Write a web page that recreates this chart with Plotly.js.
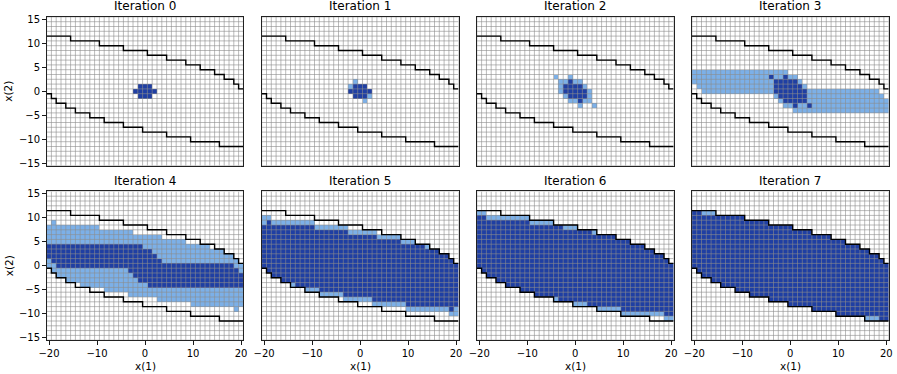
<!DOCTYPE html>
<html><head><meta charset="utf-8">
<script src="https://cdn.plot.ly/plotly-3.0.1.min.js"></script>
<style>html,body{margin:0;padding:0;background:#fff}#chart{width:897px;height:374px}</style>
</head><body><div id="chart"></div>
<script>
const _ = null;
// columns x(1) = -20..20, rows x(2) = -15..15
const xCols = [-20,-19,-18,-17,-16,-15,-14,-13,-12,-11,-10,-9,-8,-7,-6,-5,-4,-3,-2,-1,0,1,2,3,4,5,6,7,8,9,10,11,12,13,14,15,16,17,18,19,20];
const yRows = [-15,-14,-13,-12,-11,-10,-9,-8,-7,-6,-5,-4,-3,-2,-1,0,1,2,3,4,5,6,7,8,9,10,11,12,13,14,15];
const xTicks = [-20,-10,0,10,20];
const yTicks = [-15,-10,-5,0,5,10,15];
const titles = ['Iteration 0','Iteration 1','Iteration 2','Iteration 3','Iteration 4','Iteration 5','Iteration 6','Iteration 7'];

// safe set (black staircase): highest / lowest admissible cell per column
const safeTop = [11,11,11,11,11,10,10,10,10,10,10,9,9,9,9,9,8,8,8,8,8,7,7,7,7,6,6,6,6,5,5,5,4,4,4,3,3,2,2,1,0];
const safeBot = [0,-1,-2,-2,-3,-3,-4,-4,-4,-5,-5,-5,-6,-6,-6,-6,-7,-7,-7,-7,-8,-8,-8,-8,-8,-9,-9,-9,-9,-9,-10,-10,-10,-10,-10,-10,-11,-11,-11,-11,-11];

// reached set after each iteration: top / bottom cell per column (null = none)
const top0 = [_,_,_,_,_,_,_,_,_,_,_,_,_,_,_,_,_,_,0,1,1,1,0,_,_,_,_,_,_,_,_,_,_,_,_,_,_,_,_,_,_];
const bot0 = [_,_,_,_,_,_,_,_,_,_,_,_,_,_,_,_,_,_,0,-1,-1,-1,0,_,_,_,_,_,_,_,_,_,_,_,_,_,_,_,_,_,_];
const top1 = [_,_,_,_,_,_,_,_,_,_,_,_,_,_,_,_,_,_,1,2,1,1,0,_,_,_,_,_,_,_,_,_,_,_,_,_,_,_,_,_,_];
const bot1 = [_,_,_,_,_,_,_,_,_,_,_,_,_,_,_,_,_,_,0,-1,-1,-2,-1,_,_,_,_,_,_,_,_,_,_,_,_,_,_,_,_,_,_];
const top2 = [_,_,_,_,_,_,_,_,_,_,_,_,_,_,_,_,3,2,2,3,2,2,1,0,-3,_,_,_,_,_,_,_,_,_,_,_,_,_,_,_,_];
const bot2 = [_,_,_,_,_,_,_,_,_,_,_,_,_,_,_,_,3,0,-1,-2,-2,-3,-2,-2,-3,_,_,_,_,_,_,_,_,_,_,_,_,_,_,_,_];
const top3 = [4,4,4,4,4,4,4,4,4,4,4,4,4,4,4,4,4,4,4,4,3,3,2,1,0,0,0,0,0,0,0,0,0,0,0,0,0,0,0,-1,-2];
const bot3 = [2,1,0,0,0,0,0,0,0,0,0,0,0,0,0,0,0,-1,-2,-3,-3,-4,-4,-4,-4,-4,-4,-4,-4,-4,-4,-4,-4,-4,-4,-4,-4,-4,-4,-4,-4];
const top4 = [8,9,8,8,8,8,8,8,8,8,8,7,7,7,7,7,7,7,6,6,6,6,6,6,5,5,5,5,5,4,4,4,4,4,3,3,3,2,2,1,0];
const bot4 = [0,-1,-2,-2,-3,-3,-3,-4,-4,-4,-4,-4,-5,-5,-5,-5,-5,-6,-6,-6,-6,-6,-6,-7,-7,-7,-7,-7,-7,-7,-8,-8,-8,-8,-8,-8,-8,-8,-8,-9,-8];
const top5 = [10,10,9,9,9,9,9,9,9,9,9,8,8,8,8,8,8,8,7,7,7,7,7,7,6,6,6,6,6,5,5,5,4,4,4,3,3,2,2,1,0];
const bot5 = [0,-1,-2,-2,-3,-3,-4,-4,-4,-5,-5,-5,-6,-6,-6,-6,-6,-7,-7,-7,-7,-7,-7,-8,-8,-8,-8,-8,-8,-8,-9,-9,-9,-9,-9,-9,-9,-9,-9,-10,-10];
const top6 = [11,11,10,10,10,10,10,10,10,10,10,9,9,9,9,9,8,8,8,8,8,7,7,7,7,6,6,6,6,5,5,5,4,4,4,3,3,2,2,1,0];
const bot6 = [0,-1,-2,-2,-3,-3,-4,-4,-4,-5,-5,-5,-6,-6,-6,-6,-7,-7,-7,-7,-8,-8,-8,-8,-8,-9,-9,-9,-9,-9,-10,-10,-10,-10,-10,-10,-10,-10,-10,-11,-11];
const top7 = [11,11,11,11,11,10,10,10,10,10,10,9,9,9,9,9,8,8,8,8,8,7,7,7,7,6,6,6,6,5,5,5,4,4,4,3,3,2,2,1,0];
const bot7 = [0,-1,-2,-2,-3,-3,-4,-4,-4,-5,-5,-5,-6,-6,-6,-6,-7,-7,-7,-7,-8,-8,-8,-8,-8,-9,-9,-9,-9,-9,-10,-10,-10,-10,-10,-10,-11,-11,-11,-11,-11];

const reachTop = [top0,top1,top2,top3,top4,top5,top6,top7];
const reachBot = [bot0,bot1,bot2,bot3,bot4,bot5,bot6,bot7];

const WHITE = '#ffffff', LIGHT = '#7cb0e8', DARK = '#1f3fa3';

function inSet(k, i, y){
  const t = reachTop[k][i], b = reachBot[k][i];
  return t !== null && y <= t && y >= b;
}

const W = 897, H = 374;
const colL = [46.6, 261.7, 476.8, 691.9], panW = 196.8;
const rowT = [16.9, 191.4], panH = 148.8;

const data = [], annotations = [];
const layout = {
  width: W, height: H, margin: {l:0,r:0,t:0,b:0},
  paper_bgcolor: '#fff', plot_bgcolor: '#fff', showlegend: false,
  font: {family: 'DejaVu Sans', size: 10, color: '#000'},
  annotations: annotations
};

const xMinE = xCols[0]-0.5, xMaxE = xCols[xCols.length-1]+0.5;
const yMinE = yRows[0]-0.5, yMaxE = yRows[yRows.length-1]+0.5;

for (let k = 0; k < 8; k++) {
  const r = Math.floor(k/4), c = k%4;
  const sfx = k === 0 ? '' : String(k+1);
  const xa = 'x'+sfx, ya = 'y'+sfx;
  const prev = k === 0 ? 0 : k-1;
  const z = yRows.map(y => xCols.map((x,i) => inSet(prev,i,y) ? 2 : (inSet(k,i,y) ? 1 : 0)));
  data.push({type:'heatmap', x:xCols, y:yRows, z:z, xaxis:xa, yaxis:ya, zmin:0, zmax:2,
    colorscale:[[0,WHITE],[0.333,WHITE],[0.334,LIGHT],[0.666,LIGHT],[0.667,DARK],[1,DARK]],
    showscale:false, hoverinfo:'skip'});
  // cell edges
  const gx = [], gy = [];
  for (let i = 0; i <= xCols.length; i++) { const e = xMinE + i; gx.push(e,e,null); gy.push(yMinE,yMaxE,null); }
  for (let j = 0; j <= yRows.length; j++) { const e = yMinE + j; gx.push(xMinE,xMaxE,null); gy.push(e,e,null); }
  data.push({type:'scatter', mode:'lines', x:gx, y:gy, xaxis:xa, yaxis:ya,
    line:{color:'rgba(140,140,140,0.7)', width:0.85}, hoverinfo:'skip'});
  // safe set boundary
  const ex = xCols.map(x => x-0.5).concat([xMaxE]);
  const uy = safeTop.map(v => v+0.5); uy.push(uy[uy.length-1]);
  const ly = safeBot.map(v => v-0.5); ly.push(ly[ly.length-1]);
  data.push({type:'scatter', mode:'lines', x:ex, y:uy, xaxis:xa, yaxis:ya, line:{color:'#000', width:1.4, shape:'hv'}, hoverinfo:'skip'});
  data.push({type:'scatter', mode:'lines', x:ex, y:ly, xaxis:xa, yaxis:ya, line:{color:'#000', width:1.4, shape:'hv'}, hoverinfo:'skip'});

  const x0 = colL[c]/W, x1 = (colL[c]+panW)/W;
  const y1 = 1 - rowT[r]/H, y0 = 1 - (rowT[r]+panH)/H;
  const bottomRow = r === 1, leftCol = c === 0;
  layout['xaxis'+sfx] = {domain:[x0,x1], anchor:ya, range:[xMinE,xMaxE], showgrid:false, zeroline:false,
    showline:true, mirror:true, linecolor:'#222', linewidth:1,
    ticks: bottomRow ? 'outside' : '', ticklen:3.5, tickwidth:0.9, tickcolor:'#000',
    tickvals: xTicks, showticklabels: bottomRow, tickfont:{size:10, color:'#000'}, fixedrange:true};
  layout['yaxis'+sfx] = {domain:[y0,y1], anchor:xa, range:[yMinE,yMaxE], showgrid:false, zeroline:false,
    showline:true, mirror:true, linecolor:'#222', linewidth:1,
    ticks: leftCol ? 'outside' : '', ticklen:3.5, tickwidth:0.9, tickcolor:'#000',
    tickvals: yTicks, showticklabels: leftCol, tickfont:{size:10, color:'#000'}, fixedrange:true};
  annotations.push({text:titles[k], xref:'paper', yref:'paper', x:(x0+x1)/2, y:1-(rowT[r]-10.5)/H, xanchor:'center', yanchor:'middle',
    showarrow:false, borderpad:0, font:{size:12, color:'#000'}});
  if (bottomRow) annotations.push({text:'x(1)', xref:'paper', yref:'paper', x:(x0+x1)/2, y:1-366/H, xanchor:'center', yanchor:'middle', showarrow:false, font:{size:10.5, color:'#000'}});
  if (leftCol) annotations.push({text:'x(2)', xref:'paper', yref:'paper', x:8.5/W, y:(y0+y1)/2, xanchor:'center', yanchor:'middle', textangle:-90, showarrow:false, font:{size:10.5, color:'#000'}});
}

Plotly.newPlot('chart', data, layout, {displayModeBar:false, staticPlot:true});
</script></body></html>
